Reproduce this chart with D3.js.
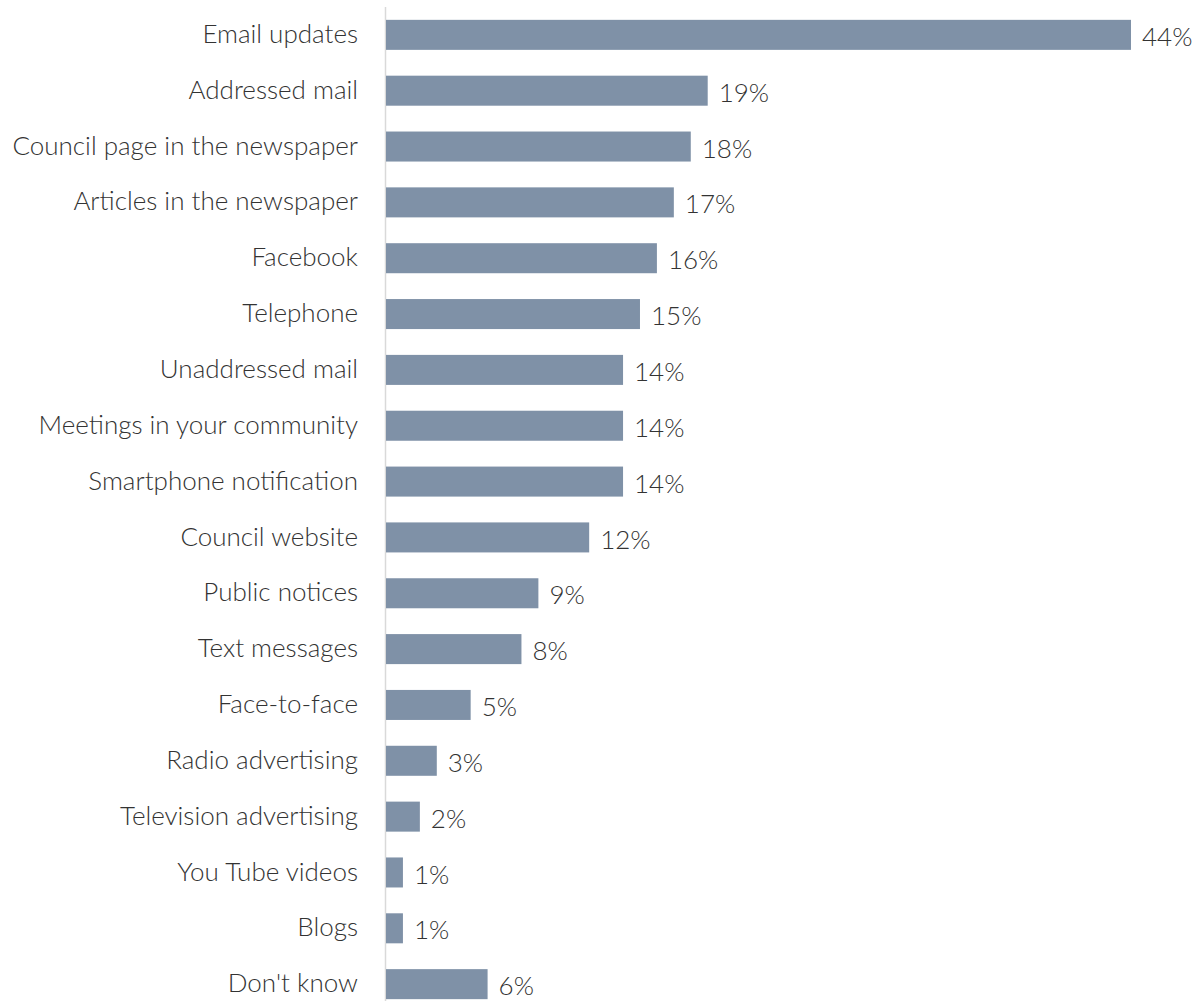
<!DOCTYPE html>
<html>
<head>
<meta charset="utf-8">
<script src="https://cdn.jsdelivr.net/npm/d3@7"></script>
<style>
  html, body { margin: 0; padding: 0; background: #ffffff; }
  svg { display: block; }
  text { font-family: "Lato", "Open Sans", sans-serif; font-weight: 300; fill: #333333; }
</style>
</head>
<body>
<svg id="chart" width="1196" height="1001"></svg>
<script>
const categories = [
  "Email updates", "Addressed mail", "Council page in the newspaper",
  "Articles in the newspaper", "Facebook", "Telephone", "Unaddressed mail",
  "Meetings in your community", "Smartphone notification", "Council website",
  "Public notices", "Text messages", "Face-to-face", "Radio advertising",
  "Television advertising", "You Tube videos", "Blogs", "Don't know"
];
const values = [44, 19, 18, 17, 16, 15, 14, 14, 14, 12, 9, 8, 5, 3, 2, 1, 1, 6];

const x0 = 386;

const svg = d3.select("#chart");

const x = d3.scaleLinear().domain([0, 44]).range([x0, 1131]);
const y = d3.scaleBand()
  .domain(categories)
  .range([7, 1012])
  .paddingInner(0.4625)
  .paddingOuter(0.23);

// vertical baseline
svg.append("line")
  .attr("x1", x0 - 0.5).attr("x2", x0 - 0.5)
  .attr("y1", 7).attr("y2", 1001)
  .attr("stroke", "#d9d9d9").attr("stroke-width", 1.5);

const rows = categories.map((c, i) => ({ c, v: values[i] }));

svg.append("g").selectAll("rect")
  .data(rows).join("rect")
  .attr("x", x(0))
  .attr("y", d => y(d.c))
  .attr("width", d => x(d.v) - x(0))
  .attr("height", y.bandwidth())
  .attr("fill", "#7f91a7");

// category labels
svg.append("g").selectAll("text")
  .data(rows).join("text")
  .attr("x", 358)
  .attr("y", d => y(d.c) + y.bandwidth() / 2 - 1)
  .attr("dy", "0.35em")
  .attr("text-anchor", "end")
  .style("font-size", "26px")
  .text(d => d.c);

// value labels
svg.append("g").selectAll("text")
  .data(rows).join("text")
  .attr("x", d => x(d.v) + 11)
  .attr("y", d => y(d.c) + y.bandwidth() / 2 + 2)
  .attr("dy", "0.35em")
  .style("font-size", "26px")
  .text(d => d.v + "%");
</script>
</body>
</html>
